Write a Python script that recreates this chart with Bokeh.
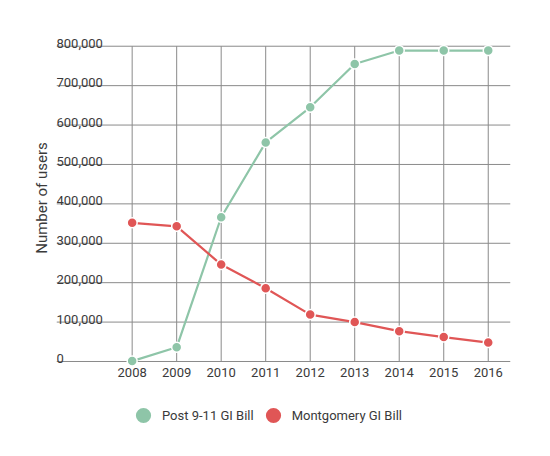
from bokeh.plotting import figure
from bokeh.layouts import column
from bokeh.models import Range1d, FixedTicker, Legend, LegendItem
from bokeh.core.properties import value
from bokeh.embed import file_html
from bokeh.resources import INLINE

years = [2008, 2009, 2010, 2011, 2012, 2013, 2014, 2015, 2016]
post911 = [1000, 36000, 366000, 556000, 645000, 755000, 789000, 789000, 789000]
montgomery = [352000, 343000, 246000, 186000, 119000, 100000, 77000, 62000, 48000]
y_ticks = [0, 100000, 200000, 300000, 400000, 500000, 600000, 700000, 800000]
y_tick_labels = ["0", "100,000", "200,000", "300,000", "400,000", "500,000", "600,000", "700,000", "800,000"]
series_names = ["Post 9-11 GI Bill", "Montgomery GI Bill"]

GREEN = "#8ec5a8"
RED = "#e05656"
GRID = "#8a8a8a"
TEXT = "#3a3a3a"
FONT = "Roboto"

x_start, x_end = 2006.3, 2016.5
y_start, y_end = -15240, 845000

p = figure(width=534, height=390, output_backend="svg", toolbar_location=None,
           x_range=Range1d(x_start, x_end), y_range=Range1d(y_start, y_end),
           min_border_left=56, min_border_right=24, min_border_top=28, min_border_bottom=23)
p.outline_line_color = None
p.xgrid.visible = False
p.ygrid.visible = False

# grid lines bounded to the data area
p.segment(x0=years, x1=years, y0=[y_ticks[0]] * len(years), y1=[y_ticks[-1]] * len(years),
          line_color=GRID, line_width=1)
p.segment(x0=[x_start] * len(y_ticks), x1=[x_end] * len(y_ticks), y0=y_ticks, y1=y_ticks,
          line_color=GRID, line_width=1)

# y tick labels above grid lines
p.text(x=[x_start] * len(y_ticks), y=y_ticks, text=y_tick_labels,
       text_font=value(FONT), text_font_size="13px", text_color=TEXT,
       text_baseline="alphabetic", text_align="left", y_offset=-3)

p.line(years, post911, line_color=GREEN, line_width=2.2)
p.scatter(years, post911, size=10, fill_color=GREEN, line_color="white", line_width=1.5)
p.line(years, montgomery, line_color=RED, line_width=2.2)
p.scatter(years, montgomery, size=10, fill_color=RED, line_color="white", line_width=1.5)

xa = p.xaxis[0]
xa.ticker = FixedTicker(ticks=years)
xa.major_label_overrides = {yr: str(yr) for yr in years}
xa.axis_line_color = None
xa.major_tick_line_color = None
xa.minor_tick_line_color = None
xa.major_tick_out = 0
xa.major_tick_in = 0
xa.major_label_standoff = 0
xa.major_label_text_font = FONT
xa.major_label_text_font_size = "13px"
xa.major_label_text_color = TEXT

ya = p.yaxis[0]
ya.ticker = FixedTicker(ticks=[])
ya.axis_line_color = None
ya.major_tick_line_color = None
ya.minor_tick_line_color = None
ya.major_label_text_font_size = "0px"
ya.axis_label = "Number of users"
ya.axis_label_text_font = FONT
ya.axis_label_text_font_size = "15px"
ya.axis_label_text_font_style = "normal"
ya.axis_label_text_color = TEXT
ya.axis_label_standoff = 6

# legend strip below the chart (its glyphs lie outside its own range, only the legend shows)
p2 = figure(width=534, height=50, output_backend="svg", toolbar_location=None,
            x_range=Range1d(0, 1), y_range=Range1d(0, 1),
            x_axis_type=None, y_axis_type=None,
            min_border_left=0, min_border_right=0, min_border_top=0, min_border_bottom=0)
p2.outline_line_color = None
p2.xgrid.visible = False
p2.ygrid.visible = False
lg = p2.scatter(x=years, y=post911, size=10, fill_color=GREEN, line_color=None)
lr = p2.scatter(x=years, y=montgomery, size=10, fill_color=RED, line_color=None)

legend = Legend(items=[LegendItem(label=series_names[0], renderers=[lg]),
                       LegendItem(label=series_names[1], renderers=[lr])],
                location=(68, 6), orientation="horizontal",
                glyph_width=38, glyph_height=38, label_standoff=-1, spacing=-2,
                padding=0, margin=0, border_line_color=None, background_fill_alpha=0,
                label_text_font=FONT, label_text_font_size="13px", label_text_color=TEXT)
p2.add_layout(legend, "center")

open("out.html", "w").write(file_html(column(p, p2, spacing=0), INLINE))
